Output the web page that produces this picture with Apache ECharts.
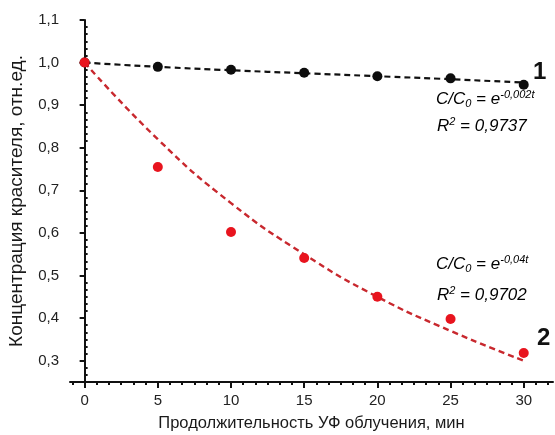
<!DOCTYPE html>
<html>
<head>
<meta charset="utf-8">
<script src="https://cdn.jsdelivr.net/npm/echarts@6/dist/echarts.min.js"></script>
<style>
  html, body { margin: 0; padding: 0; background: #fff; }
  #chart { width: 555px; height: 435px; }
</style>
</head>
<body>
<div id="chart"></div>
<script>
// время облучения, мин
var times = [0, 5, 10, 15, 20, 25, 30];
// 1 - черные точки, 2 - красные точки
var conc1 = [1.0, 0.990, 0.983, 0.976, 0.968, 0.963, 0.948];
var conc2 = [1.0, 0.755, 0.602, 0.541, 0.450, 0.398, 0.318];
var fit1 = [1.0, 0.990, 0.982, 0.975, 0.968, 0.961, 0.953];
var fit2 = [1.0, 0.82, 0.67, 0.55, 0.45, 0.37, 0.30];
// подписи осей
var xTicks = [0, 5, 10, 15, 20, 25, 30];
var yTicks = [0.3, 0.4, 0.5, 0.6, 0.7, 0.8, 0.9, 1.0, 1.1];

var xMin = -1, xMax = 32, yMin = 0.25, yMax = 1.1;

// мелкие деления: 5 штук между основными
var xMinor = [], yMinor = [];
for (var i = -1; i <= 38; i++) {
    var v = i * 5 / 6;
    if (v >= xMin && v <= xMax && i % 6 !== 0) xMinor.push(+v.toFixed(4));
}
for (var j = 15; j <= 66; j++) {
    var w = j * 0.1 / 6;
    if (w >= yMin && w <= yMax && j % 6 !== 0) yMinor.push(+w.toFixed(5));
}

function pairs(xs, ys) {
    return xs.map(function (x, k) { return [x, ys[k]]; });
}

var font = 'Liberation Sans, Arial, sans-serif';
var dom = document.getElementById('chart');
var chart = echarts.init(dom, null, { renderer: 'canvas' });

var eqRich = {
    a: { fontFamily: font, fontSize: 17, fontStyle: 'italic', color: '#1a1a1a', lineHeight: 22 },
    s: { fontFamily: font, fontSize: 11, fontStyle: 'italic', color: '#1a1a1a', lineHeight: 22, padding: [9, 0, 0, 0] },
    p: { fontFamily: font, fontSize: 11, fontStyle: 'italic', color: '#1a1a1a', lineHeight: 22, padding: [0, 0, 10, 0] }
};

var option = {
    animation: false,
    backgroundColor: '#fff',
    grid: { left: 70, right: 2, top: 20, bottom: 53, containLabel: false, outerBoundsMode: 'none' },
    xAxis: [{
        type: 'value', min: xMin, max: xMax,
        name: 'Продолжительность УФ облучения, мин',
        nameLocation: 'middle', nameGap: 33,
        nameTextStyle: { fontFamily: font, fontSize: 16.5, color: '#1a1a1a' },
        axisLine: { lineStyle: { color: '#111', width: 2 } },
        axisTick: { length: 6, lineStyle: { color: '#111', width: 2 }, customValues: xTicks },
        axisLabel: { fontFamily: font, fontSize: 15, color: '#222', margin: 11, customValues: xTicks },
        splitLine: { show: false }
    }, {
        type: 'value', min: xMin, max: xMax, position: 'bottom',
        axisLine: { show: false },
        axisTick: { length: 3, lineStyle: { color: '#111', width: 2 }, customValues: xMinor },
        axisLabel: { show: false },
        splitLine: { show: false }
    }],
    yAxis: [{
        type: 'value', min: yMin, max: yMax,
        name: 'Концентрация красителя, отн.ед.',
        nameLocation: 'middle', nameGap: 44,
        nameTextStyle: { fontFamily: font, fontSize: 19, color: '#1a1a1a' },
        axisLine: { show: true, lineStyle: { color: '#111', width: 2 } },
        axisTick: { show: true, length: 5, lineStyle: { color: '#111', width: 2 }, customValues: yTicks },
        axisLabel: {
            fontFamily: font, fontSize: 15, color: '#222', margin: 11, customValues: yTicks,
            formatter: function (v) { return v.toFixed(1).replace('.', ','); }
        },
        splitLine: { show: false }
    }, {
        type: 'value', min: yMin, max: yMax, position: 'left',
        axisLine: { show: false },
        axisTick: { show: true, inside: true, length: 3, lineStyle: { color: '#111', width: 2 }, customValues: yMinor },
        axisLabel: { show: false },
        splitLine: { show: false }
    }],
    series: [{
        name: 'fit1', type: 'line', smooth: true, showSymbol: false,
        data: pairs(times, fit1),
        lineStyle: { color: '#111', width: 2.2, type: [6, 4] },
        z: 2
    }, {
        name: 'fit2', type: 'line', smooth: true, showSymbol: false,
        data: pairs(times, fit2),
        lineStyle: { color: '#c8282e', width: 2.4, type: [6, 4] },
        z: 2
    }, {
        name: '1', type: 'scatter', symbolSize: 10,
        data: pairs(times, conc1),
        itemStyle: { color: '#0d0d0d', opacity: 1 },
        z: 3
    }, {
        name: '2', type: 'scatter', symbolSize: 10,
        data: pairs(times, conc2),
        itemStyle: { color: '#e8141e', opacity: 1 },
        z: 4
    }],
    graphic: [
        { type: 'text', left: 533, top: 60, style: { text: '1', fontFamily: font, fontSize: 24, fontWeight: 'bold', fill: '#111' } },
        { type: 'text', left: 537, top: 326, style: { text: '2', fontFamily: font, fontSize: 24, fontWeight: 'bold', fill: '#111' } },
        { type: 'text', left: 436, top: 89, style: { text: '{a|C/C}{s|0}{a| = e}{p|-0,002t}', rich: eqRich } },
        { type: 'text', left: 437, top: 116, style: { text: '{a|R}{p|2}{a| = 0,9737}', rich: eqRich } },
        { type: 'text', left: 436, top: 254, style: { text: '{a|C/C}{s|0}{a| = e}{p|-0,04t}', rich: eqRich } },
        { type: 'text', left: 437, top: 285, style: { text: '{a|R}{p|2}{a| = 0,9702}', rich: eqRich } }
    ]
};
chart.setOption(option);
</script>
</body>
</html>
